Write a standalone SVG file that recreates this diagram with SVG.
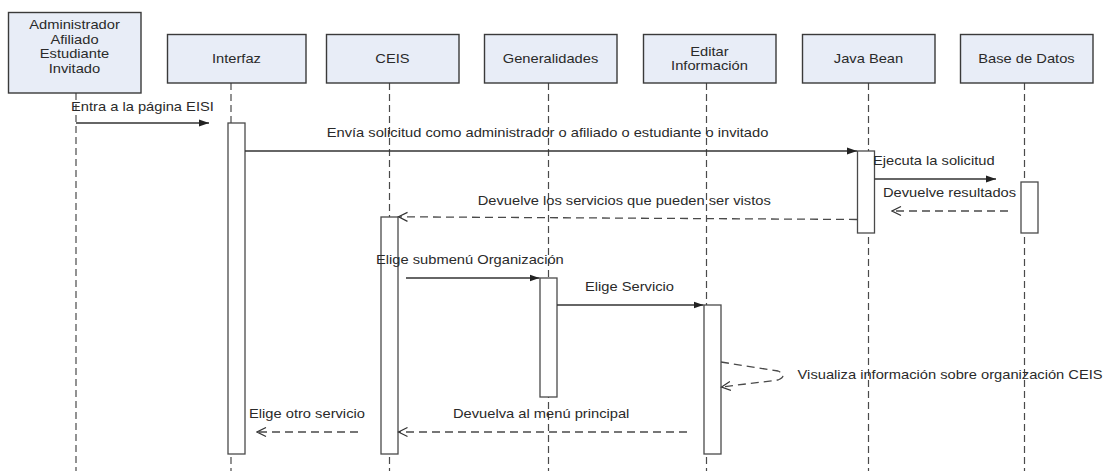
<svg xmlns="http://www.w3.org/2000/svg" width="1117" height="471" viewBox="0 0 1117 471">
<style>
  .box { fill: #e8edf7; stroke: #3a3a3a; stroke-width: 1.4; }
  .act { fill: #ffffff; stroke: #4a4a4a; stroke-width: 1.3; }
  .life { stroke: #4a4a4a; stroke-width: 1.2; stroke-dasharray: 7 4; fill: none; }
  .msg { stroke: #333333; stroke-width: 1.3; fill: none; }
  .ret { stroke: #4a4a4a; stroke-width: 1.3; stroke-dasharray: 8 5; fill: none; }
  text { font-family: "Liberation Sans", Arial, sans-serif; font-size: 12px; fill: #2a2a2a; }
  .c { text-anchor: middle; }
</style>
<defs>
  <marker id="fill" markerWidth="10" markerHeight="8" refX="10" refY="4" orient="auto" markerUnits="userSpaceOnUse">
    <path d="M0,0.5 L10,4 L0,7.5 z" fill="#222"/>
  </marker>
  <marker id="open" markerWidth="11" markerHeight="11" refX="9.5" refY="5.5" orient="auto" markerUnits="userSpaceOnUse">
    <path d="M0.5,1 L9.5,5.5 L0.5,10" fill="none" stroke="#333" stroke-width="1.2"/>
  </marker>
</defs>
<rect width="1117" height="471" fill="#ffffff"/>

<g id="lifelines">
  <line class="life" x1="76" y1="93" x2="76" y2="471"/>
  <line class="life" x1="231" y1="83" x2="231" y2="471"/>
  <line class="life" x1="389.5" y1="83" x2="389.5" y2="471"/>
  <line class="life" x1="548.5" y1="83" x2="548.5" y2="471"/>
  <line class="life" x1="706.5" y1="83" x2="706.5" y2="471"/>
  <line class="life" x1="868.5" y1="83" x2="868.5" y2="471"/>
  <line class="life" x1="1024.5" y1="83" x2="1024.5" y2="471"/>
</g>

<g id="actor">
  <rect class="box" x="8.5" y="12.5" width="132.5" height="80.5"/>
  <text class="c" transform="scale(1.225,1)" x="60.82" y="28.8">Administrador</text>
  <text class="c" transform="scale(1.225,1)" x="60.82" y="43.6">Afiliado</text>
  <text class="c" transform="scale(1.225,1)" x="60.82" y="58.4">Estudiante</text>
  <text class="c" transform="scale(1.225,1)" x="60.82" y="73.2">Invitado</text>
</g>
<g id="interfaz">
  <rect class="box" x="167.5" y="34.5" width="138.5" height="48.5"/>
  <text class="c" transform="scale(1.225,1)" x="193.06" y="63">Interfaz</text>
  <rect class="act" x="228" y="123" width="17" height="331"/>
</g>
<g id="ceis">
  <rect class="box" x="326.5" y="34.5" width="132.5" height="48.5"/>
  <text class="c" transform="scale(1.225,1)" x="320.41" y="63">CEIS</text>
  <rect class="act" x="381" y="217" width="17" height="237"/>
</g>
<g id="generalidades">
  <rect class="box" x="484.5" y="34.5" width="132.5" height="48.5"/>
  <text class="c" transform="scale(1.225,1)" x="449.39" y="63">Generalidades</text>
  <rect class="act" x="540" y="278" width="17" height="119"/>
</g>
<g id="editar">
  <rect class="box" x="643.5" y="34.5" width="132.5" height="48.5"/>
  <text class="c" transform="scale(1.225,1)" x="579.18" y="56">Editar</text>
  <text class="c" transform="scale(1.225,1)" x="579.18" y="70">Información</text>
  <rect class="act" x="704" y="305" width="17" height="149"/>
</g>
<g id="javabean">
  <rect class="box" x="802.5" y="34.5" width="132.5" height="48.5"/>
  <text class="c" transform="scale(1.225,1)" x="708.98" y="63">Java Bean</text>
  <rect class="act" x="857.5" y="151" width="17" height="82"/>
</g>
<g id="basedatos">
  <rect class="box" x="960.5" y="34.5" width="132.5" height="48.5"/>
  <text class="c" transform="scale(1.225,1)" x="837.96" y="63">Base de Datos</text>
  <rect class="act" x="1021" y="182" width="17" height="51"/>
</g>

<g id="connectors">
  <path class="msg" d="M76,123 H209" marker-end="url(#fill)"/>
  <text transform="scale(1.225,1)" x="57.96" y="111.5">Entra a la página EISI</text>

  <path class="msg" d="M245,151 H857" marker-end="url(#fill)"/>
  <text transform="scale(1.225,1)" x="266.69" y="137.5">Envía solicitud como administrador o afiliado o estudiante o invitado</text>

  <path class="msg" d="M874.5,179 H996" marker-end="url(#fill)"/>
  <text transform="scale(1.225,1)" x="712.65" y="165">Ejecuta la solicitud</text>

  <path class="ret" d="M1008,211 H892" marker-end="url(#open)"/>
  <text transform="scale(1.225,1)" x="720.82" y="197">Devuelve resultados</text>

  <path class="ret" d="M857,219.5 L398.5,216.8" marker-end="url(#open)"/>
  <text transform="scale(1.225,1)" x="389.96" y="205">Devuelve los servicios que pueden ser vistos</text>

  <path class="msg" d="M406,278 H539.5" marker-end="url(#fill)"/>
  <text transform="scale(1.225,1)" x="306.94" y="264">Elige submenú Organización</text>

  <path class="msg" d="M557,305 H703.5" marker-end="url(#fill)"/>
  <text transform="scale(1.225,1)" x="477.55" y="291.5">Elige Servicio</text>

  <path class="ret" d="M721,362 L778,371 Q788,375.5 778,380 L721.5,387" marker-end="url(#open)"/>
  <text transform="scale(1.225,1)" x="651.10" y="379">Visualiza información sobre organización CEIS</text>

  <path class="ret" d="M687,432 H398.5" marker-end="url(#open)"/>
  <text transform="scale(1.225,1)" x="369.80" y="418">Devuelva al menú principal</text>

  <path class="ret" d="M358,432 H257" marker-end="url(#open)"/>
  <text transform="scale(1.225,1)" x="203.27" y="418">Elige otro servicio</text>
</g>
</svg>
